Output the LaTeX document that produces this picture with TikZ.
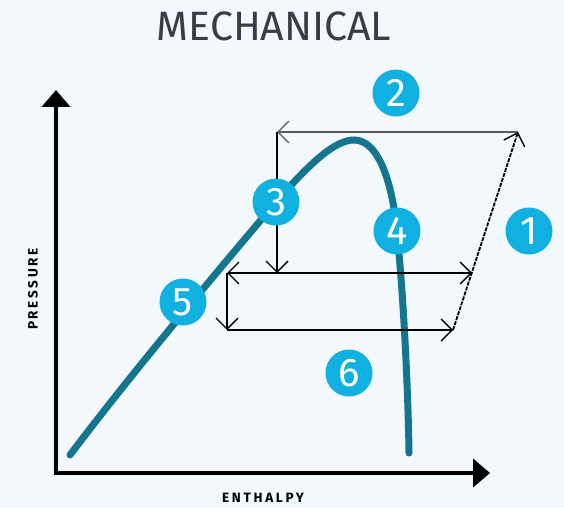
\documentclass[tikz,border=0pt]{standalone}
\usepackage{fontspec}
\setmainfont{Fira Sans}
\newfontfamily\axisfont[LetterSpace=20]{Fira Sans}
\usepackage{tikz}
\usetikzlibrary{arrows.meta,positioning}
\definecolor{bg}{HTML}{F2F8FC}
\definecolor{curve}{HTML}{13768E}
\definecolor{dot}{HTML}{10B1E0}
\definecolor{ttl}{HTML}{3B3B48}
\tikzset{
  axis/.style={line width=4pt,-{Triangle[length=17pt,width=28pt]}},
  cycle/.style={line width=1.6pt,-{Straight Barb[length=11pt,width=22pt,line width=1.4pt]}},
  dot/.style={circle,fill=dot,text=white,minimum size=47pt,inner sep=0pt,font=\fontsize{40}{40}\selectfont},
  axlabel/.style={font=\axisfont\bfseries\fontsize{13.5}{14}\selectfont,text=black}
}
\begin{document}
\begin{tikzpicture}[x=1pt,y=-1pt]
  \fill[bg] (0,0) rectangle (564,508);
  \useasboundingbox (0,0) rectangle (564,508);
  \node[text=ttl,font=\fontsize{41}{41}\selectfont] (title) at (274,26) {MECHANICAL};
  % axes
  \coordinate (origin) at (56,473);
  \coordinate (ytip) at (56,90);
  \coordinate (xtip) at (490,473);
  \draw[axis] ([yshift=2pt]origin) -- (ytip);
  \draw[axis] ([xshift=-2pt]origin) -- (xtip);
  \node[axlabel,rotate=90] (pres) at (33,289) {PRESSURE};
  \node[axlabel] (enth) at (263,498) {ENTHALPY};
  % saturation dome
  \draw[curve,line width=7pt,line cap=round] (70,455)
    .. controls (140,362) and (240,245) .. (276,202)
    .. controls (310,163) and (335,140) .. (354,140)
    .. controls (378,140) and (390,180) .. (395,215)
    .. controls (402,270) and (408,380) .. (409,453);
  % cycle corners
  \coordinate (tr) at (518,132);
  \coordinate (tl) at (277,132);
  \coordinate (mt) at (277,273);
  \coordinate (ml) at (227,273);
  \coordinate (mr) at (472,273);
  \coordinate (bl) at (227,330);
  \coordinate (br) at (453,330);
  \draw[cycle,draw=black!65] (tr) -- (tl);
  \draw[cycle] (tl) -- (mt);
  \draw[cycle] (mt) -- (ml);
  \draw[cycle] (mt) -- (mr);
  \draw[cycle] (ml) -- (bl);
  \draw[cycle] (bl) -- (br);
  \draw[cycle,line width=1.8pt,dash pattern=on 4pt off 1.2pt] (br) -- (tr);
  % numbered steps
  \node[dot] (n1) at (529,231) {1};
  \node[dot] (n2) at (396,93) {2};
  \node[dot] (n3) at (276,202) {3};
  \node[dot] (n4) at (397,231) {4};
  \node[dot] (n5) at (183,302) {5};
  \node[dot] (n6) at (349,373) {6};
\end{tikzpicture}
\end{document}
